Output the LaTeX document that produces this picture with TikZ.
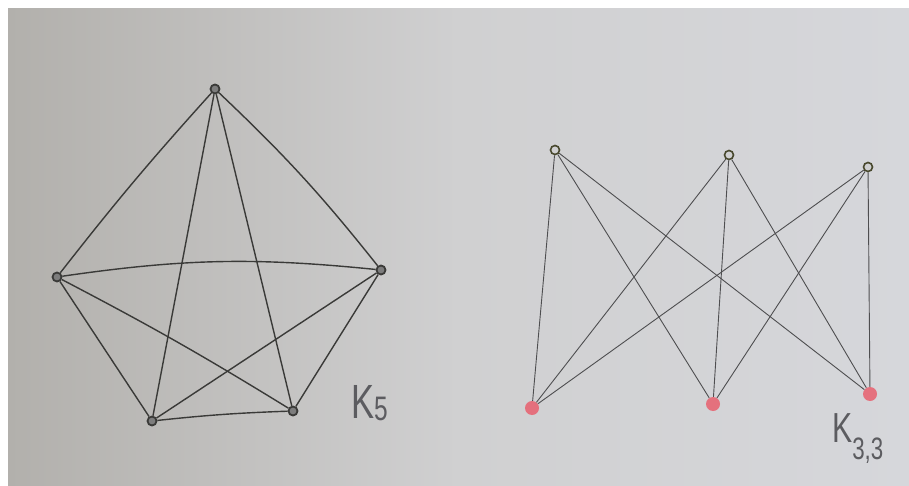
\documentclass[tikz,border=0pt]{standalone}
\usepackage{fontspec}
\setmainfont{Liberation Sans}
\definecolor{paperL}{RGB}{178,176,172}
\definecolor{paperM}{RGB}{208,208,209}
\definecolor{paperR}{RGB}{214,215,219}
\definecolor{pencil}{RGB}{58,58,56}
\definecolor{pencilB}{RGB}{78,78,80}
\definecolor{pink}{RGB}{232,96,110}
\definecolor{ink}{RGB}{92,92,96}
\tikzset{
  k5node/.style={circle, draw=pencil, line width=1.8pt, fill=paperM!60!black, minimum size=9pt, inner sep=0pt},
  topnode/.style={circle, draw=pencil!80!olive, line width=1.6pt, fill=paperM, minimum size=9pt, inner sep=0pt},
  rednode/.style={circle, fill=pink, fill opacity=0.85, minimum size=14pt, inner sep=0pt},
  k5edge/.style={draw=pencil, line width=1.4pt},
  bipedge/.style={draw=pencilB, line width=0.9pt},
  lbl/.style={text=ink, inner sep=0pt}
}
\begin{document}
\begin{tikzpicture}[x=1pt,y=-1pt]
\useasboundingbox (0,0) rectangle (909,486);
\fill[white] (0,0) rectangle (909,486);
\shade[left color=paperL, right color=paperR, middle color=paperM] (8,9) rectangle (909,486);
% K5
\node[k5node] (A) at (215,89) {};
\node[k5node] (B) at (57,277) {};
\node[k5node] (C) at (381,270) {};
\node[k5node] (D) at (152,421) {};
\node[k5node] (E) at (293,411) {};
\draw[k5edge] (A) to[bend right=2] (B);
\draw[k5edge] (A) to[bend left=4] (C);
\draw[k5edge] (A) -- (D);
\draw[k5edge] (A) -- (E);
\draw[k5edge] (B) to[bend left=7] (C);
\draw[k5edge] (B) -- (D);
\draw[k5edge] (B) to[bend left=2] (E);
\draw[k5edge] (C) -- (D);
\draw[k5edge] (C) -- (E);
\draw[k5edge] (D) to[bend left=2] (E);
\node[lbl, anchor=base west, xscale=0.72, font=\fontsize{48}{48}\selectfont] (k5lbl) at (351,418)
  {K\raisebox{-2pt}{\fontsize{34}{34}\selectfont 5}};
% K3,3
\node[topnode] (T1) at (555,150) {};
\node[topnode] (T2) at (729,155) {};
\node[topnode] (T3) at (868,167) {};
\node[rednode] (U1) at (532,408) {};
\node[rednode] (U2) at (713,404) {};
\node[rednode] (U3) at (870,394) {};
\foreach \t in {T1,T2,T3}{
  \foreach \u in {U1,U2,U3}{
    \draw[bipedge] (\t) -- (\u);
  }
}
\node[lbl, anchor=base west, xscale=0.72, font=\fontsize{42}{42}\selectfont] (k33lbl) at (832,442)
  {K\raisebox{-17pt}{\fontsize{31}{31}\selectfont 3,3}};
\end{tikzpicture}
\end{document}
